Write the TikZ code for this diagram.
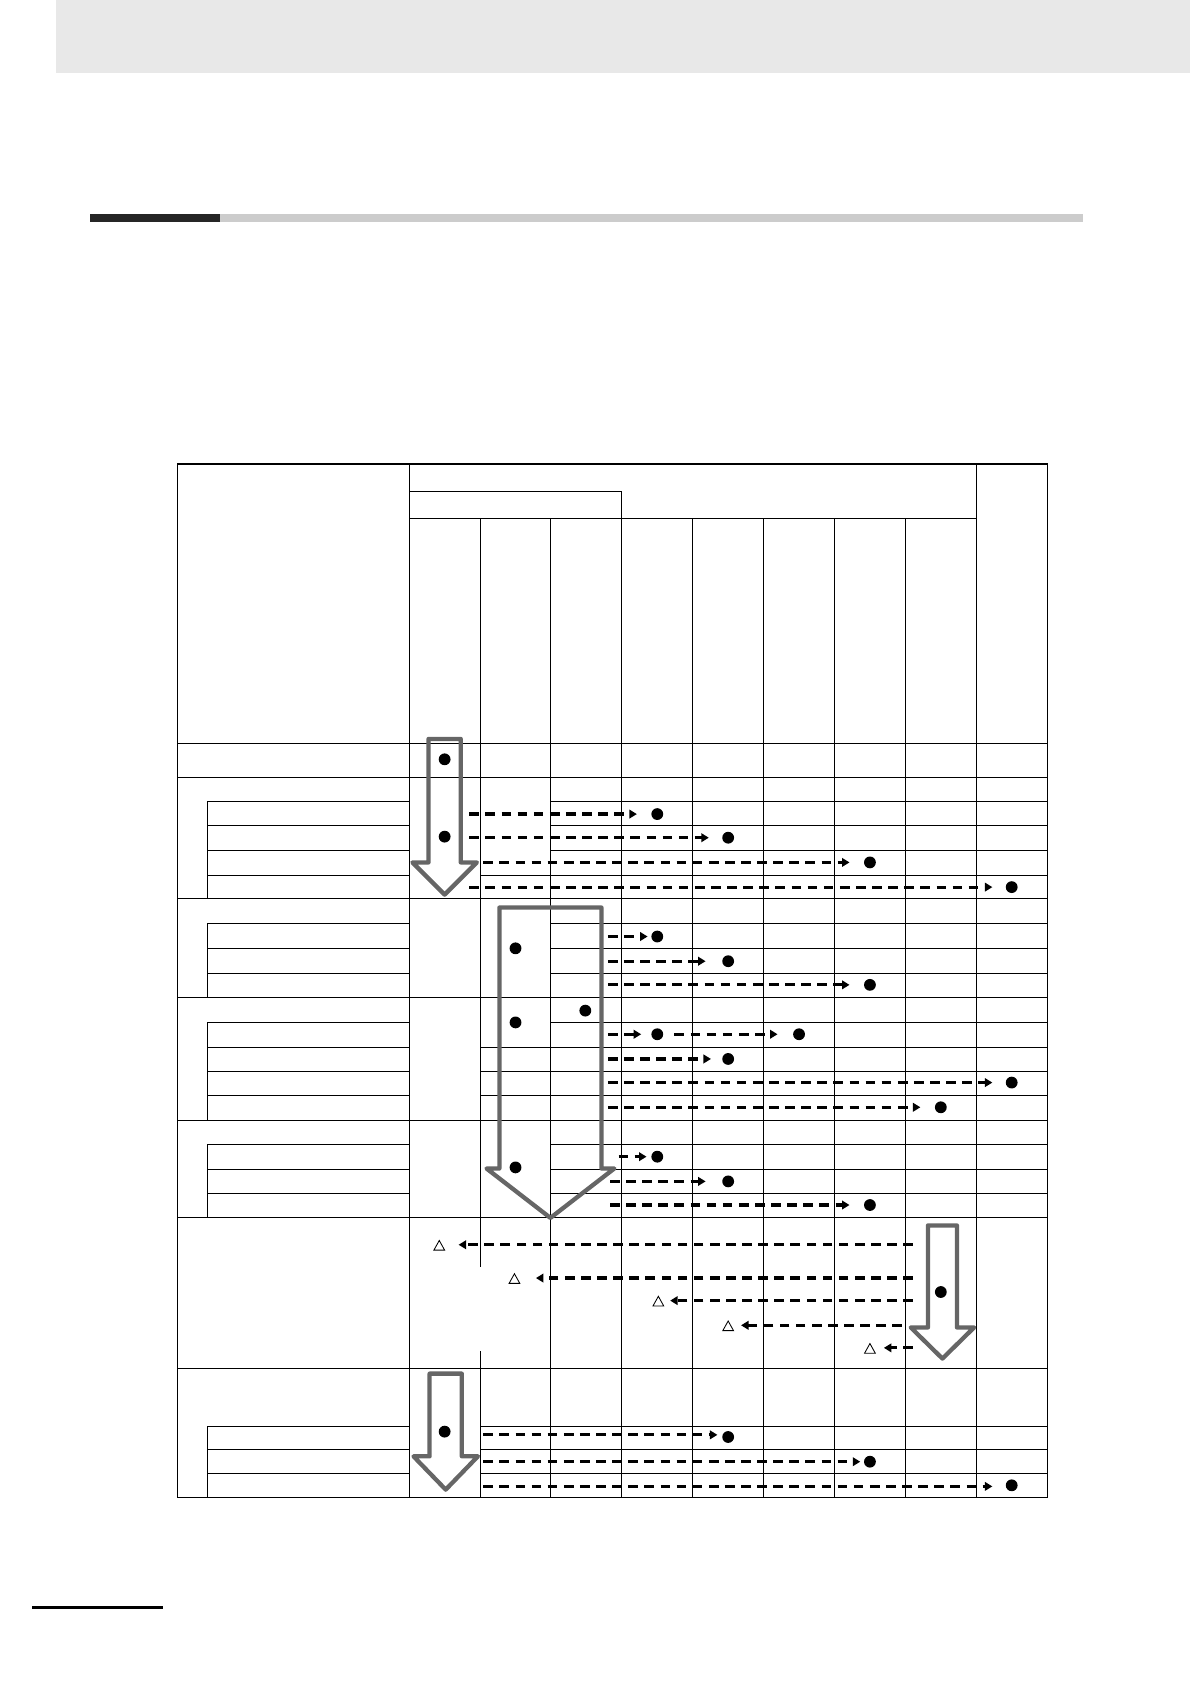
\documentclass[tikz,border=0pt]{standalone}
\usetikzlibrary{arrows.meta}
\definecolor{arrowgray}{HTML}{666666}
\definecolor{bandgray}{HTML}{E8E8E8}
\definecolor{rulegray}{HTML}{CCCCCC}
\tikzset{
  grid/.style={black, line width=1pt},
  flow/.style={black, line width=3pt, dash pattern=on 9pt off 6pt, -{Triangle[length=7pt,width=8pt]}},
  dot/.style={circle, fill=black, inner sep=0pt, minimum size=11pt},
  opentri/.style={black, line width=0.8pt},
}
% block arrow: shaft left, shaft right, top, shaft bottom, head left, head right, tip
\newcommand{\drawdown}[7]{
    \draw[arrowgray, line width=4pt, line join=round] (#1,#3) -- (#2,#3) -- (#2,#4) -- (#6,#4) -- ({(#5+#6)/2},#7) -- (#5,#4) -- (#1,#4) -- cycle;
}
\newcommand{\drawtri}[2]{
    \draw[opentri] (#1-5,#2+5) -- (#1+5,#2+5) -- (#1,#2-4) -- cycle;
}
\begin{document}
\begin{tikzpicture}[x=1pt,y=-1pt]
   \useasboundingbox (0,0) rectangle (1108,1568);

   % Page decoration
    \fill[bandgray] (52,0) rectangle (1108,68);
    \fill[rulegray] (205,199) rectangle (1008,207);
    \fill[black!85] (84,199) rectangle (205,207);
    \draw[black, line width=3pt] (30,1497) -- (152,1497);

   % Outer frame and header
    \draw[grid] (165,432) rectangle (975,1394);
    \draw[grid] (381,432) -- (381,1394);
    \draw[grid] (909,432) -- (909,1394);
    \draw[grid] (381,458) -- (579,458);
    \draw[grid] (381,483) -- (909,483);
    \draw[grid] (579,458) -- (579,1394);
    \foreach \x in {513,645,711,777,843}
      \draw[grid] (\x,483) -- (\x,1394);
    \draw[grid] (447,483) -- (447,1180) (447,1258) -- (447,1394);

   % Group lines
    \foreach \y in {692,724,837,929,1043,1134,1274}
      \draw[grid] (165,\y) -- (975,\y);

   % Sub rows
    \foreach \y/\xs in {746/513,769/513,792/513,815/447,
                        860/513,883/513,906/513,
                        952/513,975/447,998/447,1020/447,
                        1066/513,1089/513,1111/513,
                        1328/447,1350/447,1372/447}
      \draw[grid] (193,\y) -- (381,\y) (\xs,\y) -- (975,\y);
    \foreach \a/\b in {746/837,860/929,952/1043,1066/1134,1328/1394}
      \draw[grid] (193,\a) -- (193,\b);

   % Block arrows
    \drawdown{399}{429}{688}{803}{384}{444}{833}
    \drawdown{465}{560}{845}{1088}{453}{572}{1134}
    \drawdown{864}{891}{1141}{1236}{848}{907}{1265}
    \drawdown{400}{430}{1279}{1356}{385}{445}{1387}

   % Dots
    \foreach \x/\y [count=\i] in {414/707,414/779,612/758,678/780,810/803,942/826,
        480/883,612/872,678/895,810/917,
        545/941,480/952,612/963,744/963,678/986,942/1008,876/1031,
        480/1087,612/1077,678/1100,810/1122,
        876/1203,
        414/1333,678/1338,810/1361,942/1383}
      \node[dot] (d\i) at (\x,\y) {};

   % Dashed flows to the right
    \foreach \a/\b/\y in {437/593/758,437/660/780,450/791/803,437/924/826,
        566/603/872,566/657/895,566/791/917,
        566/597/963,628/724/963,566/662/986,566/924/1008,566/857/1031,
        576/602/1077,568/657/1100,568/791/1122,
        450/668/1336,450/801/1361,450/924/1384}
      \draw[flow] (\a,\y) -- (\b,\y);

   % Dashed flows to the left
    \foreach \a/\b/\t/\y in {850/427/409/1159,850/499/479/1190,850/624/613/1211,
        840/690/678/1234,850/823/810/1255}
      {\draw[flow] (\a,\y) -- (\b,\y);
       \drawtri{\t}{\y}}

\end{tikzpicture}
\end{document}
